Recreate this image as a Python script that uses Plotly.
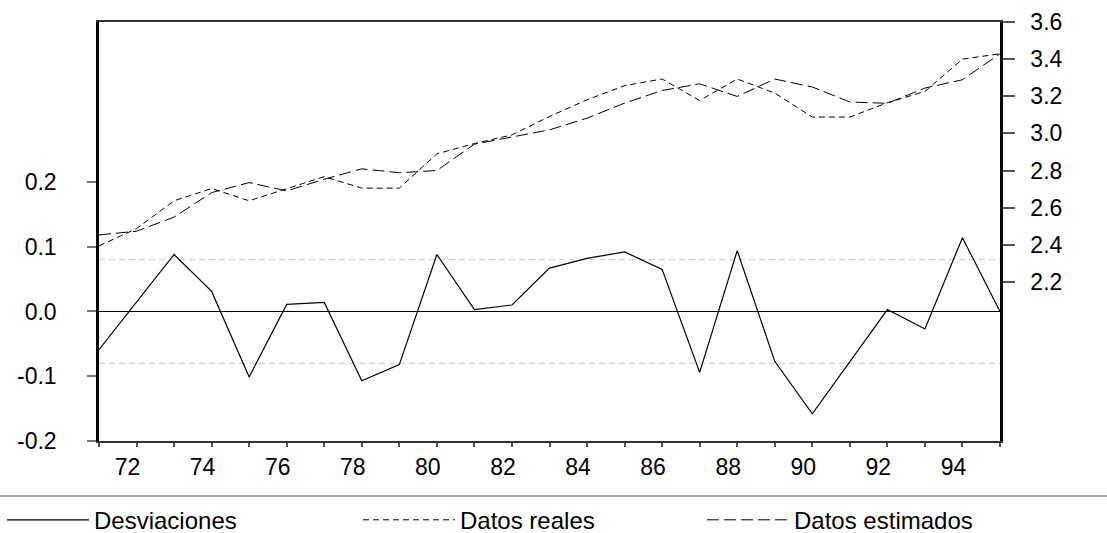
import plotly.graph_objects as go

# ---- data ----
years = list(range(1971, 1996))
tick_labels = [str(y % 100) if y % 2 == 0 else "" for y in years]

desviaciones = [-0.059, 0.014, 0.088, 0.031, -0.101, 0.011, 0.014, -0.107, -0.082, 0.088,
                0.003, 0.010, 0.067, 0.082, 0.092, 0.065, -0.094, 0.094, -0.077, -0.158,
                -0.078, 0.003, -0.027, 0.114, 0.000]
datos_reales = [2.394, 2.487, 2.637, 2.703, 2.637, 2.700, 2.767, 2.705, 2.705, 2.890,
                2.945, 2.992, 3.091, 3.181, 3.257, 3.293, 3.177, 3.293, 3.217, 3.088,
                3.088, 3.165, 3.226, 3.400, 3.429]
datos_estimados = [2.453, 2.473, 2.549, 2.681, 2.735, 2.690, 2.753, 2.809, 2.788, 2.800,
                   2.942, 2.980, 3.019, 3.082, 3.163, 3.231, 3.267, 3.199, 3.293, 3.250,
                   3.169, 3.162, 3.244, 3.289, 3.429]
se_band = 0.08

left_ticks = [-0.2, -0.1, 0.0, 0.1, 0.2]
left_ticktext = ["-0.2", "-0.1", "0.0", "0.1", "0.2"]
right_ticks = [2.2, 2.4, 2.6, 2.8, 3.0, 3.2, 3.4, 3.6]
right_ticktext = ["2.2", "2.4", "2.6", "2.8", "3.0", "3.2", "3.4", "3.6"]

FONT = "Liberation Sans, Arial, sans-serif"
FS = 23
LEG_FS = 24

fig = go.Figure()
fig.add_trace(go.Scatter(x=years, y=desviaciones, mode="lines", name="Desviaciones",
                         line=dict(color="black", width=1.2), legend="legend", yaxis="y"))
fig.add_trace(go.Scatter(x=years, y=datos_reales, mode="lines", name="Datos reales",
                         line=dict(color="black", width=1, dash="6px,4px"),
                         legend="legend2", yaxis="y2"))
fig.add_trace(go.Scatter(x=years, y=datos_estimados, mode="lines", name="Datos estimados",
                         line=dict(color="black", width=1, dash="12px,5px"),
                         legend="legend3", yaxis="y2"))

# standard error bands
for v in (se_band, -se_band):
    fig.add_shape(type="line", xref="x", yref="y", x0=years[0], x1=years[-1], y0=v, y1=v,
                  line=dict(color="#c8c8c8", width=1, dash="6px,4px"), layer="below")

# separator line above legend
fig.add_shape(type="line", xref="paper", yref="paper", x0=-99 / 901, x1=1008 / 901,
              y0=-0.1313, y1=-0.1313, line=dict(color="#808080", width=1.5))

legend_common = dict(orientation="h", yanchor="middle", xanchor="left",
                     xref="container", yref="container", y=0.024,
                     font=dict(family=FONT, size=LEG_FS, color="black"),
                     bgcolor="rgba(0,0,0,0)", borderwidth=0)

fig.update_layout(
    width=1107, height=533,
    margin=dict(l=99, r=107, t=22, b=92, autoexpand=False),
    paper_bgcolor="white", plot_bgcolor="white",
    font=dict(family=FONT, size=FS, color="black"),
    showlegend=True,
    legend=dict(x=2 / 1107, itemwidth=82, **legend_common),
    legend2=dict(x=358 / 1107, itemwidth=92, **legend_common),
    legend3=dict(x=702 / 1107, itemwidth=82, **legend_common),
    xaxis=dict(range=[years[0], years[-1]], tickvals=years, ticktext=tick_labels,
               ticks="outside", ticklen=4, tickcolor="#555", tickwidth=1.5,
               showline=True, linewidth=2, linecolor="#333", mirror=True,
               showgrid=False, zeroline=False, ticklabelshift=-9, automargin=False,
               tickfont=dict(family=FONT, size=FS)),
    yaxis=dict(range=[-0.2, 0.447], tickvals=left_ticks, ticktext=left_ticktext,
               ticks="outside", ticklen=9, tickcolor="#777", tickwidth=1.5,
               showline=True, linewidth=2.5, linecolor="black", automargin=False,
               showgrid=False, zeroline=True, zerolinecolor="black", zerolinewidth=1,
               ticklabelstandoff=26, tickfont=dict(family=FONT, size=FS)),
    yaxis2=dict(range=[1.343, 3.6], tickvals=right_ticks, ticktext=right_ticktext,
                overlaying="y", side="right", anchor="x", automargin=False,
                ticks="outside", ticklen=12, tickcolor="#555", tickwidth=1.5,
                showline=True, linewidth=2.5, linecolor="black",
                showgrid=False, zeroline=False, ticklabelstandoff=11,
                tickfont=dict(family=FONT, size=FS)),
)

fig.write_html("out.html")
